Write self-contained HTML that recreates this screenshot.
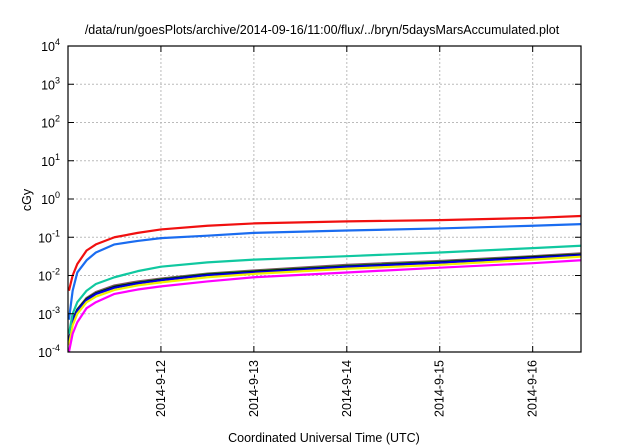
<!DOCTYPE html>
<html><head><meta charset="utf-8"><style>
body{margin:0;background:#fff}
svg{font-family:"Liberation Sans",sans-serif;display:block}
</style></head><body>
<svg id="chart" width="640" height="448" viewBox="0 0 640 448">
<text x="322" y="34" font-size="12.5" text-anchor="middle">/data/run/goesPlots/archive/2014-09-16/11:00/flux/../bryn/5daysMarsAccumulated.plot</text>
<text transform="translate(31,200) rotate(-90)" font-size="12.5" text-anchor="middle">cGy</text>
<text x="324" y="442" font-size="12.5" text-anchor="middle">Coordinated Universal Time (UTC)</text>
<g id="grid"></g><g id="series"></g><g id="axes"></g>
</svg>
<script>
const times=[0.01,0.05,0.1,0.2,0.3,0.5,0.75,1,1.5,2,3,4,5,5.52];
const red=[0.004,0.01,0.02,0.045,0.065,0.1,0.13,0.16,0.2,0.23,0.26,0.28,0.32,0.36];
const blue=[0.0007,0.004,0.012,0.025,0.04,0.065,0.08,0.095,0.11,0.13,0.15,0.17,0.2,0.22];
const teal=[0.0003,0.001,0.002,0.004,0.006,0.009,0.013,0.017,0.022,0.026,0.032,0.04,0.052,0.06];
const brown=[0.0002,0.0007,0.0013,0.0026,0.0037,0.0055,0.007,0.0083,0.0112,0.0135,0.019,0.024,0.032,0.038];
const green=[0.0002,0.0007,0.0013,0.0025,0.0035,0.0052,0.0066,0.008,0.011,0.013,0.018,0.023,0.031,0.036];
const black=[0.00019,0.00068,0.00125,0.0024,0.0034,0.005,0.0064,0.0077,0.0105,0.0125,0.0172,0.022,0.03,0.035];
const darkblue=[0.00018,0.00065,0.0012,0.0023,0.0033,0.0048,0.0062,0.0075,0.0102,0.012,0.0168,0.0215,0.029,0.034];
const yellow=[0.00015,0.0005,0.001,0.002,0.0028,0.0042,0.0055,0.0066,0.009,0.011,0.015,0.019,0.026,0.031];
const magenta=[0.0001,0.0003,0.0006,0.0014,0.002,0.0033,0.0043,0.0052,0.007,0.009,0.012,0.016,0.021,0.025];
const yExps=[-4,-3,-2,-1,0,1,2,3,4];
const xTickDays=[1,2,3,4,5];
const xTickLabels=["2014-9-12","2014-9-13","2014-9-14","2014-9-15","2014-9-16"];
const L=68,R=581,T=46,B=352,xMax=5.52;
const ns="http://www.w3.org/2000/svg";
function X(d){return L+d/xMax*(R-L);}
function Y(v){return B-(Math.log10(v)+4)/8*(B-T);}
function mk(tag,attrs,parent){const e=document.createElementNS(ns,tag);for(const k in attrs)e.setAttribute(k,attrs[k]);document.getElementById(parent).appendChild(e);return e;}
yExps.forEach(e=>{const y=Y(Math.pow(10,e));
 if(e>-4&&e<4){const g=mk('line',{x1:L,x2:R,y1:y,y2:y,stroke:'#bbb','stroke-dasharray':'2,2','stroke-width':1},'grid');
 
 }
 const tk=mk('path',{d:`M${L} ${y}h6M${R} ${y}h-6`,stroke:'#000','stroke-width':1},'axes');
 
 
 const t=mk('text',{x:L-8,y:y+5,'font-size':12.5,'text-anchor':'end'},'axes');
 
 
 t.innerHTML='10<tspan dy="-6" font-size="9">'+e+'</tspan>';});
xTickDays.forEach((d,i)=>{const x=X(d);
 const g=mk('line',{x1:x,x2:x,y1:T,y2:B,stroke:'#bbb','stroke-dasharray':'2,2','stroke-width':1},'grid');
 
 
 const tk=mk('path',{d:`M${x} ${B}v-6M${x} ${T}v6`,stroke:'#000','stroke-width':1},'axes');
 
 
 const t=mk('text',{transform:`translate(${x+4},${B+8}) rotate(-90)`,'font-size':12.5,'text-anchor':'end'},'axes');
 
 
 t.textContent=xTickLabels[i];});
const fr=mk('rect',{x:L,y:T,width:R-L,height:B-T,fill:'none',stroke:'#000','stroke-width':1.2},'axes');


const series=[[brown,'#8b4a6a','series-brown'],[green,'#2a8a2a','series-green'],[black,'#000','series-black'],[darkblue,'#0000e0','series-dark-blue'],[yellow,'#f0f000','series-yellow'],[magenta,'#ff00ff','series-magenta'],[teal,'#10c8a0','series-teal'],[blue,'#1a6cf0','series-blue'],[red,'#f01010','series-red']];
series.forEach(([vals,col,name])=>{
 const p=mk('polyline',{points:times.map((t,i)=>X(t)+','+Y(vals[i])).join(' '),fill:'none',stroke:col,'stroke-width':2.2,'stroke-linejoin':'round'},'series');
 
 });
</script>
</body></html>
